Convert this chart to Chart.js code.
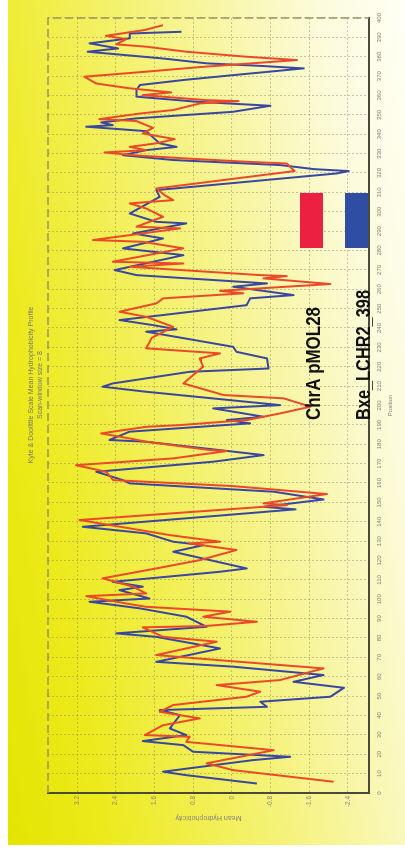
<!DOCTYPE html>
<html>
<head>
<meta charset="utf-8">
<script src="https://cdn.jsdelivr.net/npm/chart.js@4"></script>
<style>
html,body{margin:0;padding:0;width:405px;height:857px;overflow:hidden;background:#fff;}
#panel{position:absolute;left:8px;top:0;width:397px;height:845px;
  background:linear-gradient(80deg,#e4e400 0%,#ecea1c 18%,#f3f060 42%,#f8f6a8 66%,#fcfbdc 84%,#fffff6 100%);}
/* the profile is laid out landscape and turned a quarter turn */
#frame{position:absolute;left:-226px;top:226px;width:857px;height:405px;transform:rotate(-90deg);}
canvas{display:block;}
</style>
</head>
<body>
<div id="panel"></div>
<div id="frame"><canvas id="c" width="857" height="405"></canvas></div>
<script>
// Kyte & Doolittle mean hydrophobicity (window 8) along each protein
const posRed = [5.8,11.8,15.3,22.1,26.4,29.0,29.9,35.0,38.5,41.9,45.4,49.7,52.3,55.7,58.3,64.3,68.1,71.2,78.1,80.6,
  85.5,86.2,88.4,91.0,93.6,96.1,97.8,101.6,103.0,106.5,110.8,115.9,120.2,125.4,128.8,129.7,133.1,136.6,140.9,148.6,149.5,154.3,158.4,161.5,
  165.8,169.2,172.7,176.5,177.0,181.3,183.0,185.6,189.0,189.9,192.5,195.9,199.4,203.7,205.4,211.4,215.7,220.0,224.3,226.9,229.5,235.0,240.6,
  245.8,248.4,252.7,255.3,257.9,259.2,262.7,265.6,266.8,267.3,271.6,273.3,274.2,281.1,284.5,285.4,291.4,292.3,297.4,301.7,304.3,306.0,308.6,312.0,321.0,324.9,
  325.8,327.5,329.2,330.6,331.8,333.5,335.3,337.5,340.4,343.3,346.8,347.8,350.7,352.5,355.9,357.1,357.6,360.2,361.6,363.7,366.2,369.7,372.3,374.8,378.3,380.0,
  382.6,385.2,386.4,389.1,390.8,393.8,396.3];
const hydRed = [-2.11,-0.03,0.52,-0.87,0.94,0.87,1.80,1.42,0.66,1.49,1.21,-0.31,-0.59,0.31,-1.00,-1.90,0.03,1.56,0.31,1.42,
  1.84,0.52,-0.52,0.59,0.03,1.77,2.18,3.01,1.77,2.04,2.67,1.56,0.66,-0.10,0.87,0.24,1.28,2.11,3.15,-1.14,-0.66,-1.97,-0.03,2.45,
  2.60,3.22,1.21,0.10,0.45,1.77,2.11,2.70,1.77,1.07,-0.31,-1.00,-1.63,-1.07,0.17,1.00,0.80,0.59,0.66,0.24,1.77,1.65,1.21,
  1.77,2.32,1.56,1.42,-0.24,0.24,-2.04,-0.66,-1.14,-0.59,2.11,1.00,2.46,1.00,1.84,2.87,1.07,1.97,1.42,1.77,2.11,1.21,1.39,1.56,-1.30,-1.14,
  -0.31,0.94,2.04,2.63,1.77,2.11,1.56,1.18,1.84,1.63,1.97,2.74,1.90,1.21,0.66,-0.14,0.52,1.84,1.25,2.11,2.80,3.05,1.77,0.59,-1.35,-0.31,
  0.94,1.77,2.39,2.18,2.60,1.80,1.42];

const posBlue = [4.9,9.2,11.0,17.0,18.7,21.3,24.7,26.8,29.9,33.3,40.2,42.8,44.5,47.1,49.7,54.3,57.4,60.9,65.2,67.7,74.6,80.6,
  82.4,85.8,91.0,95.3,98.7,100.4,104.7,106.5,109.0,114.2,115.9,124.5,127.9,129.7,134.0,137.4,146.4,147.7,151.5,155.5,159.8,
  161.5,165.8,171.0,174.4,181.3,182.2,186.5,190.8,192.5,194.2,198.5,200.2,207.1,209.7,211.4,217.4,219.1,224.3,227.7,230.3,238.1,
  239.3,241.5,244.1,246.7,251.8,255.3,257.0,261.3,263.0,267.3,269.9,277.6,281.1,286.2,288.8,294.0,294.8,299.1,307.7,311.2,312.9,319.8,
  321.0,322.0,324.1,326.7,329.2,331.8,333.5,335.3,341.6,343.9,344.7,346.1,348.2,351.6,354.7,356.8,359.4,362.8,365.4,368.0,370.2,374.0,
  375.3,376.6,379.1,382.6,384.3,386.9,389.5,392.0,392.9];
const hydBlue = [-0.52,0.94,1.42,-0.45,-1.21,0.80,1.00,1.84,0.94,1.28,1.07,1.49,-0.73,-0.59,-2.04,-2.32,-1.28,-1.90,-0.03,1.56,0.24,1.56,
  2.39,0.52,0.94,1.90,2.94,1.70,2.32,1.84,2.46,0.24,-0.31,1.21,0.59,1.21,1.77,3.08,-1.32,-0.66,-1.90,-0.87,2.11,
  2.25,2.80,0.38,-0.66,1.77,2.53,2.11,-0.38,0.10,-0.66,0.38,-1.00,1.77,2.67,2.46,0.87,-0.76,-0.73,-0.10,-0.03,1.77,
  1.14,1.63,2.32,1.42,-0.31,-0.38,-1.28,-0.03,-0.73,1.97,2.42,1.00,2.25,1.42,2.04,0.94,1.56,2.11,1.49,1.56,0.80,-2.18,
  -2.42,-1.70,-1.00,1.21,2.25,1.77,1.14,1.49,1.77,3.01,2.46,2.70,1.97,-0.03,-0.80,0.73,1.97,1.97,1.90,1.00,0.10,-1.49,
  -0.59,0.52,1.42,2.98,2.35,2.94,2.11,2.11,1.04];

const seriesNames = ['ChrA pMOL28', 'Bxe_LCHR2_398'];
const posTicks = [0,10,20,30,40,50,60,70,80,90,100,110,120,130,140,150,160,170,180,190,200,
  210,220,230,240,250,260,270,280,290,300,310,320,330,340,350,360,370,380,390,400];
const hydTicks = [-2.4,-1.6,-0.8,0,0.8,1.6,2.4,3.2];
const titleLines = ['Kyte & Doolittle Scale Mean Hydrophobicity Profile', 'Scan-window size = 8'];

const RED = '#ea4a28', BLUE = '#3a479e';
const tickColor = '#86857a';
const gridColor = 'rgba(115,112,90,0.38)';
const axisColor = '#4a4a3c';

function toPoints(xs, ys) { return xs.map((p, i) => ({x: p, y: ys[i]})); }

function fitText(ctx, text, x, y, w) {
  const m = ctx.measureText(text).width;
  ctx.save();
  ctx.translate(x, y);
  ctx.scale(w / m, 1);
  ctx.fillText(text, 0, 0);
  ctx.restore();
}

const decor = {
  id: 'decor',
  beforeDatasetsDraw(chart) {
    const {ctx, chartArea: a} = chart;
    ctx.save();
    ctx.setLineDash([8, 4]);
    ctx.lineWidth = 1.5;
    ctx.strokeStyle = '#9a9460';
    ctx.beginPath();
    ctx.moveTo(a.left, a.top);
    ctx.lineTo(a.right, a.top);
    ctx.lineTo(a.right, a.bottom);
    ctx.stroke();
    ctx.restore();
  },
  afterDraw(chart) {
    const {ctx, chartArea: a} = chart;
    ctx.save();
    // heading
    ctx.fillStyle = '#78786c';
    ctx.font = '7px Arial, "Liberation Sans", sans-serif';
    ctx.textAlign = 'center';
    ctx.textBaseline = 'middle';
    ctx.fillText(titleLines[0], a.left + 408, 31);
    ctx.fillText(titleLines[1], a.left + 408, 40);
    // series key
    ctx.fillStyle = '#ec2040';
    ctx.fillRect(a.left + 545, a.top + 252, 55, 23);
    ctx.fillStyle = '#2f4ea3';
    ctx.fillRect(a.left + 545, a.top + 297, 55, 23);
    ctx.fillStyle = '#111';
    ctx.textAlign = 'left';
    ctx.textBaseline = 'alphabetic';
    ctx.font = 'bold 20px "Liberation Sans Narrow", "Arial Narrow", Arial, sans-serif';
    fitText(ctx, seriesNames[0], a.left + 373, a.top + 272, 113);
    fitText(ctx, seriesNames[1], a.left + 373, a.top + 322, 130);
    ctx.restore();
  }
};

new Chart(document.getElementById('c'), {
  type: 'scatter',
  data: {
    datasets: [
      {label: seriesNames[0], data: toPoints(posRed, hydRed), borderColor: RED, backgroundColor: RED},
      {label: seriesNames[1], data: toPoints(posBlue, hydBlue), borderColor: BLUE, backgroundColor: BLUE}
    ]
  },
  options: {
    responsive: false,
    animation: false,
    devicePixelRatio: 1,
    showLine: true,
    elements: {
      point: {radius: 0, hoverRadius: 0},
      line: {borderWidth: 2, tension: 0, borderJoinStyle: 'round'}
    },
    layout: {padding: {top: 48, right: 18, left: 0, bottom: 0}},
    plugins: {legend: {display: false}, tooltip: {enabled: false}},
    scales: {
      x: {
        type: 'linear', position: 'bottom', min: 0, max: 400,
        afterBuildTicks: s => { s.ticks = posTicks.map(v => ({value: v})); },
        afterFit: s => { s.height = 36; },
        grid: {color: gridColor, lineWidth: 1, drawTicks: false},
        border: {display: true, color: axisColor, width: 2, dash: [2, 2]},
        ticks: {font: {size: 6, family: 'Arial'}, color: tickColor, padding: 7, maxRotation: 0, minRotation: 0, autoSkip: false},
        title: {display: true, text: 'Position', font: {size: 6, family: 'Arial'}, color: tickColor, padding: {top: 0, bottom: 11}}
      },
      y: {
        type: 'linear', position: 'left', min: -2.84, max: 3.80,
        afterBuildTicks: s => { s.ticks = hydTicks.map(v => ({value: v})); },
        afterFit: s => { s.width = 64; },
        grid: {color: gridColor, lineWidth: 1, drawTicks: false},
        border: {display: true, color: axisColor, width: 2, dash: [2, 2]},
        ticks: {font: {size: 6.5, family: 'Arial'}, color: tickColor, padding: 3,
          callback: v => (v === 0 ? '0' : v.toFixed(1))},
        title: {display: true, text: 'Mean Hydrophobicity', font: {size: 7, family: 'Arial'}, color: tickColor, padding: {top: 35, bottom: 0}}
      }
    }
  },
  plugins: [decor]
});
</script>
</body>
</html>
